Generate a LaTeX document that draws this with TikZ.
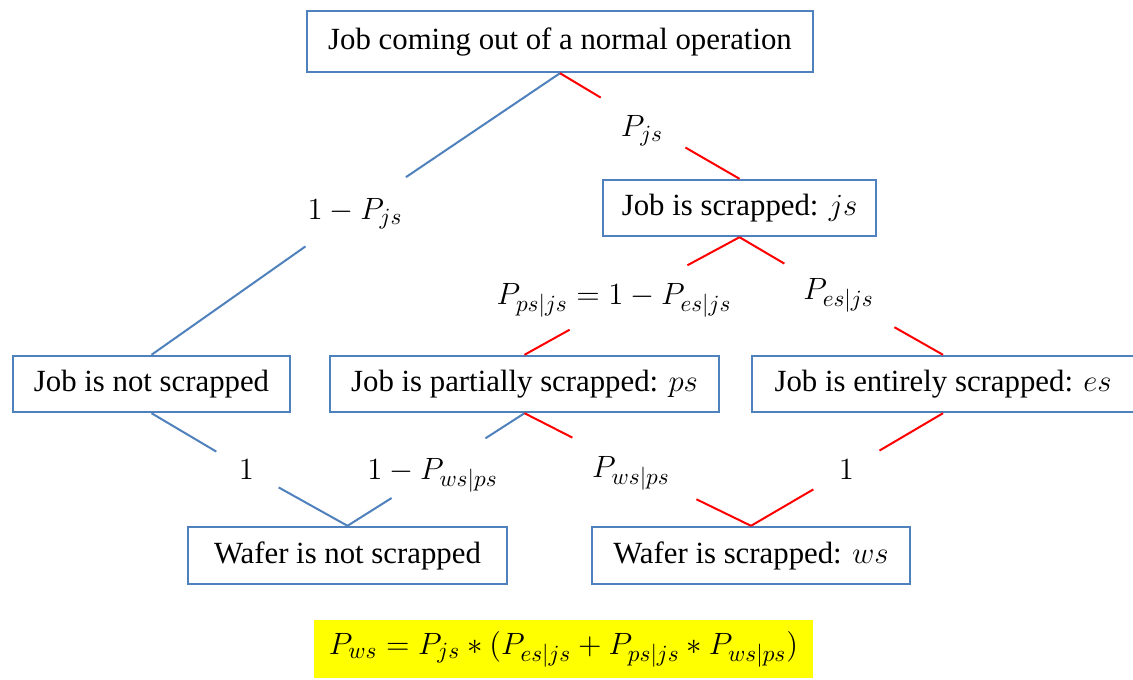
\RequirePackage{fix-cm}
\documentclass[tikz,border=0pt]{standalone}
\usepackage{fontspec}
\setmainfont{Liberation Serif}
\DeclareMathSizes{15.4}{15.4}{11.6}{9.2}
\definecolor{boxblue}{RGB}{79,129,189}
\definecolor{linkred}{RGB}{255,0,0}
\definecolor{hilite}{RGB}{255,255,0}
\tikzset{
  every node/.style={font=\fontsize{15.4}{18}\selectfont},
  box/.style={draw=boxblue, line width=1.2pt, fill=white, inner sep=0pt, minimum height=28pt},
  gap/.style={inner sep=0pt},
  blueline/.style={draw=boxblue, line width=1pt},
  redline/.style={draw=linkred, line width=1pt},
}
\begin{document}
\begin{tikzpicture}[x=0.5pt,y=-0.5pt]
  \clip (0,0) rectangle (1133,679);
  \fill[white] (0,0) rectangle (1133,679);

  % states of the job and of the wafer
  \node[box, minimum width=253pt, minimum height=30.5pt] (top) at (560,41.5) {Job coming out of a normal operation};
  \node[box, minimum width=136.5pt] (js)  at (739.5,208)   {Job is scrapped: $js$};
  \node[box, minimum width=138.5pt] (ns)  at (151.5,384)   {Job is not scrapped};
  \node[box, minimum width=194.5pt] (ps)  at (524.5,384)   {Job is partially scrapped: $ps$};
  \node[box, minimum width=191pt]   (es)  at (943,384)     {Job is entirely scrapped: $es$};
  \node[box, minimum width=159.5pt, minimum height=28.5pt] (wns) at (347.5,555.5) {Wafer is not scrapped};
  \node[box, minimum width=159pt,   minimum height=28.5pt] (ws)  at (751,555.5)   {Wafer is scrapped: $ws$};

  % resulting scrap probability
  \node[fill=hilite, inner sep=0pt, minimum width=249.5pt, minimum height=29pt] (sum) at (563.5,649)
    {$P_{ws} = P_{js} * (P_{es|js} + P_{ps|js} * P_{ws|ps})$};

  % branch probabilities: each node's size is the gap left in its branch,
  % and its text sits at the centre, shifted where needed
  \node[gap, minimum width=50.5pt, minimum height=34.5pt,
        label={[yshift=-1pt]center:$1-P_{js}$}] (l1) at (355,211.5) {};
  \node[gap, minimum width=42pt, minimum height=25pt,
        label={[shift={(-0.5pt,-4pt)}]center:$P_{js}$}] (l2) at (643,123) {};
  \node[gap, minimum width=58.5pt, minimum height=33pt,
        label={[shift={(-7.25pt,-1.5pt)}]center:$P_{ps|js} = 1-P_{es|js}$}] (l3) at (628.5,297) {};
  \node[gap, minimum width=55.5pt, minimum height=31.5pt,
        label={[yshift=0pt]center:$P_{es|js}$}] (l4) at (838.5,295.5) {};
  \node[gap, minimum width=33.5pt, minimum height=17.5pt,
        label={[yshift=0pt]center:$1$}] (l5) at (246.5,469.5) {};
  \node[gap, minimum width=46.5pt, minimum height=33.5pt,
        label={[shift={(-3pt,-3.5pt)}]center:$1-P_{ws|ps}$}] (l6) at (438.5,468.5) {};
  \node[gap, minimum width=63pt, minimum height=30.5pt,
        label={[shift={(-1pt,-2.5pt)}]center:$P_{ws|ps}$}] (l7) at (633,468.5) {};
  \node[gap, minimum width=33.5pt, minimum height=19pt,
        label={[yshift=0pt]center:$1$}] (l8) at (846.5,470) {};

  % branches
  \draw[blueline] (top.south) -- (l1) -- (ns.north);
  \draw[redline]  (top.south) -- (l2) -- (js.north);
  \draw[redline]  (js.south)  -- (l3) -- (ps.north);
  \draw[redline]  (js.south)  -- (l4) -- (es.north);
  \draw[blueline] (ns.south)  -- (l5) -- (wns.north);
  \draw[blueline] (ps.south)  -- (l6) -- (wns.north);
  \draw[redline]  (ps.south)  -- (l7) -- (ws.north);
  \draw[redline]  (es.south)  -- (l8) -- (ws.north);
\end{tikzpicture}
\end{document}
